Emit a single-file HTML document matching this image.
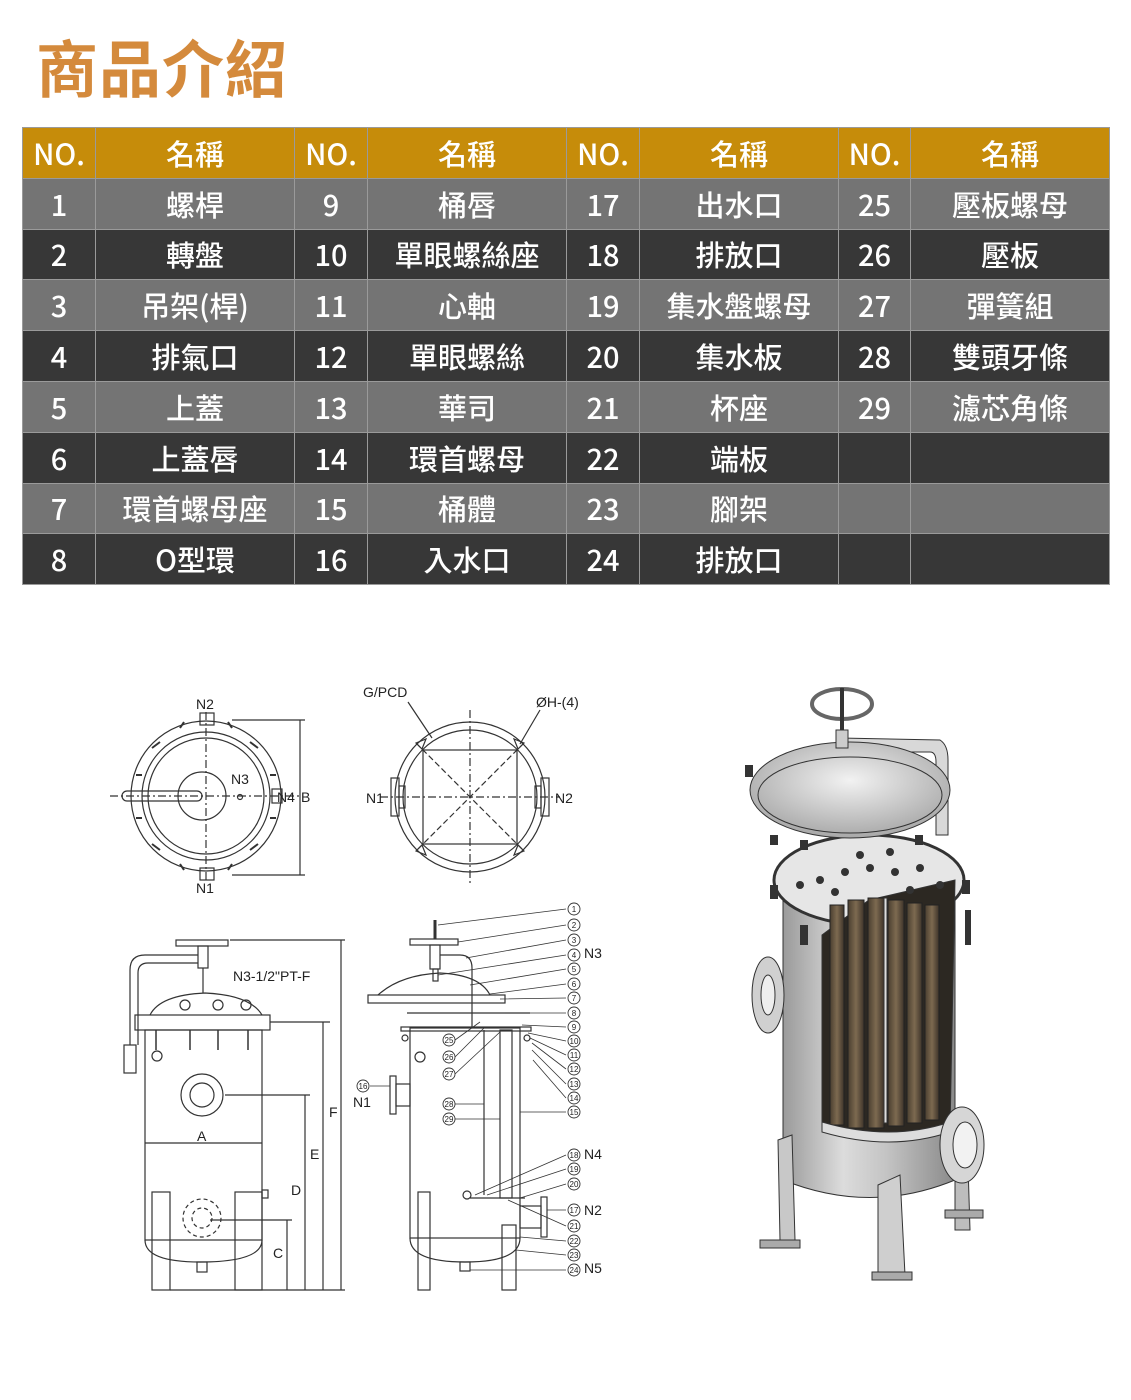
<!DOCTYPE html>
<html><head><meta charset="utf-8">
<style>
html,body{margin:0;padding:0;background:#fff;width:1131px;height:1400px;overflow:hidden;position:relative;font-family:"Liberation Sans","Noto Sans CJK TC",sans-serif}
h1{position:absolute;left:36px;top:26px;margin:0;font-size:62px;font-weight:700;color:#d48a3c;font-family:"Noto Sans CJK TC",sans-serif;letter-spacing:1px;line-height:78px}
table{position:absolute;left:22px;top:127px;border-collapse:collapse;width:1087px;table-layout:fixed}
td,th{height:50.8px;padding:0;text-align:center;color:#fff;font-size:29px;font-family:"Noto Sans CJK TC",sans-serif;font-weight:500;border:1px solid #9a9a9a;line-height:48px;box-sizing:border-box}
th{background:#c68c0a;font-weight:500}
tr.g td{background:#747474}
tr.d td{background:#373737}
svg{position:absolute;left:0;top:0}
text{font-family:"Liberation Sans",sans-serif}
</style></head><body>
<h1>商品介紹</h1>
<table>
<colgroup><col style="width:73px"><col style="width:199px"><col style="width:73px"><col style="width:199px"><col style="width:73px"><col style="width:199px"><col style="width:72px"><col style="width:199px"></colgroup>
<tr><th>NO.</th><th>名稱</th><th>NO.</th><th>名稱</th><th>NO.</th><th>名稱</th><th>NO.</th><th>名稱</th></tr>
<tr class="g"><td>1</td><td>螺桿</td><td>9</td><td>桶唇</td><td>17</td><td>出水口</td><td>25</td><td>壓板螺母</td></tr>
<tr class="d"><td>2</td><td>轉盤</td><td>10</td><td>單眼螺絲座</td><td>18</td><td>排放口</td><td>26</td><td>壓板</td></tr>
<tr class="g"><td>3</td><td>吊架(桿)</td><td>11</td><td>心軸</td><td>19</td><td>集水盤螺母</td><td>27</td><td>彈簧組</td></tr>
<tr class="d"><td>4</td><td>排氣口</td><td>12</td><td>單眼螺絲</td><td>20</td><td>集水板</td><td>28</td><td>雙頭牙條</td></tr>
<tr class="g"><td>5</td><td>上蓋</td><td>13</td><td>華司</td><td>21</td><td>杯座</td><td>29</td><td>濾芯角條</td></tr>
<tr class="d"><td>6</td><td>上蓋唇</td><td>14</td><td>環首螺母</td><td>22</td><td>端板</td><td></td><td></td></tr>
<tr class="g"><td>7</td><td>環首螺母座</td><td>15</td><td>桶體</td><td>23</td><td>腳架</td><td></td><td></td></tr>
<tr class="d"><td>8</td><td>O型環</td><td>16</td><td>入水口</td><td>24</td><td>排放口</td><td></td><td></td></tr>
</table>

<svg width="1131" height="1400" viewBox="0 0 1131 1400">
<defs>
<linearGradient id="cyl" x1="0" x2="1"><stop offset="0" stop-color="#9a9a9a"/><stop offset="0.35" stop-color="#dcdcdc"/><stop offset="0.6" stop-color="#c4c4c4"/><stop offset="1" stop-color="#8a8a8a"/></linearGradient>
<linearGradient id="flt" x1="0" x2="1"><stop offset="0" stop-color="#4a3f30"/><stop offset="0.5" stop-color="#7d6a50"/><stop offset="1" stop-color="#3e342a"/></linearGradient>
<radialGradient id="lid" cx="0.5" cy="0.4" r="0.6"><stop offset="0" stop-color="#f2f2f2"/><stop offset="1" stop-color="#a8a8a8"/></radialGradient>
</defs>
<g fill="none" stroke="#333" stroke-width="1.2">
<circle cx="206" cy="796" r="75"/><circle cx="206" cy="796" r="64"/><circle cx="206" cy="796" r="58"/>
<circle cx="202" cy="796" r="24"/>
<line x1="110" y1="796" x2="300" y2="796" stroke-dasharray="8 3 2 3"/>
<line x1="206" y1="712" x2="206" y2="880" stroke-dasharray="8 3 2 3"/>
<rect x="122" y="791" width="80" height="10" rx="5"/>
<rect x="200" y="713" width="14" height="12"/><rect x="200" y="868" width="14" height="12"/>
<rect x="272" y="789" width="10" height="14"/>
<circle cx="240" cy="797" r="2.5"/>
<line x1="232" y1="720" x2="305" y2="720"/><line x1="232" y1="875" x2="305" y2="875"/><line x1="300" y1="720" x2="300" y2="875"/>
<g stroke-width="2">
<path d="M152 748 l8 -6 M258 748 l-8 -6 M152 844 l8 6 M258 844 l-8 6 M136 775 l6 0 M276 775 l-6 0 M136 818 l6 0 M276 818 l-6 0 M180 728 l4 -6 M232 728 l-4 -6 M180 864 l4 6 M232 864 l-4 6"/>
</g>
<circle cx="470" cy="797" r="75"/><circle cx="470" cy="797" r="67"/>
<rect x="423" y="750" width="94" height="94"/>
<line x1="380" y1="797" x2="560" y2="797" stroke-dasharray="8 3 2 3"/><line x1="470" y1="710" x2="470" y2="885" stroke-dasharray="8 3 2 3"/>
<line x1="416" y1="743" x2="524" y2="851" stroke-dasharray="6 3"/><line x1="524" y1="743" x2="416" y2="851" stroke-dasharray="6 3"/>
<rect x="391" y="778" width="8" height="38"/><rect x="541" y="778" width="8" height="38"/>
<rect x="399" y="786" width="6" height="22"/><rect x="535" y="786" width="6" height="22"/>
<path d="M416 743 l10 -4 l-4 10 z M524 743 l-10 -4 l4 10 z M416 851 l10 4 l-4 -10 z M524 851 l-10 4 l4 -10 z"/>
<path d="M408 702 L432 738 M540 710 L520 744"/>
<rect x="145" y="1030" width="117" height="210"/>
<path d="M145 1240 Q145 1262 200 1262 Q262 1262 262 1240"/>
<rect x="135" y="1015" width="135" height="15"/>
<path d="M150 1015 Q160 995 205 993 Q250 995 262 1015"/>
<rect x="176" y="940" width="52" height="6"/><rect x="198" y="946" width="10" height="22"/><line x1="203" y1="968" x2="203" y2="993"/>
<path d="M130 1045 L130 970 Q130 955 145 955 L198 955"/><path d="M138 1045 L138 973 Q138 963 148 963 L198 963"/>
<rect x="124" y="1045" width="12" height="28"/>
<circle cx="202" cy="1095" r="21"/><circle cx="202" cy="1095" r="12"/>
<circle cx="202" cy="1218" r="19" stroke-dasharray="4 3"/><circle cx="202" cy="1218" r="10" stroke-dasharray="4 3"/>
<rect x="152" y="1192" width="18" height="98"/><rect x="235" y="1192" width="27" height="98"/>
<rect x="262" y="1190" width="6" height="8"/><rect x="197" y="1262" width="10" height="10"/>
<line x1="145" y1="1143" x2="262" y2="1143"/>
<line x1="230" y1="940" x2="345" y2="940"/><line x1="270" y1="1022" x2="330" y2="1022"/>
<line x1="225" y1="1095" x2="310" y2="1095"/><line x1="210" y1="1220" x2="292" y2="1220"/>
<line x1="170" y1="1290" x2="345" y2="1290"/>
<line x1="341" y1="940" x2="341" y2="1290"/><line x1="323" y1="1022" x2="323" y2="1290"/><line x1="305" y1="1095" x2="305" y2="1290"/><line x1="287" y1="1220" x2="287" y2="1290"/>
<g stroke-width="1.5"><line x1="156" y1="1030" x2="156" y2="1050"/><line x1="190" y1="1030" x2="190" y2="1050"/><line x1="218" y1="1030" x2="218" y2="1050"/><line x1="248" y1="1030" x2="248" y2="1050"/></g>
<circle cx="157" cy="1056" r="5"/><circle cx="185" cy="1005" r="5"/><circle cx="218" cy="1005" r="5"/><circle cx="246" cy="1005" r="5"/>
<rect x="410" y="1028" width="110" height="210"/>
<path d="M410 1238 Q410 1262 465 1262 Q520 1262 520 1238"/>
<rect x="368" y="995" width="137" height="8"/>
<path d="M378 995 Q400 975 440 973 Q480 975 490 995"/>
<rect x="410" y="939" width="48" height="6"/><rect x="430" y="945" width="10" height="24"/><rect x="433" y="969" width="5" height="12"/>
<line x1="435" y1="920" x2="435" y2="939" stroke-width="3"/>
<path d="M440 955 L460 955 Q472 955 472 968 L472 1028"/>
<line x1="407" y1="1013" x2="530" y2="1013"/>
<rect x="401" y="1027" width="130" height="4"/>
<line x1="484" y1="1030" x2="484" y2="1195"/>
<rect x="500" y="1030" width="12" height="168"/>
<line x1="470" y1="1198" x2="525" y2="1198"/>
<circle cx="467" cy="1195" r="4"/>
<rect x="390" y="1076" width="6" height="38"/><rect x="396" y="1084" width="14" height="22"/>
<rect x="541" y="1197" width="6" height="40"/><rect x="520" y="1206" width="21" height="22"/>
<rect x="418" y="1192" width="12" height="98"/><rect x="502" y="1225" width="14" height="65"/>
<rect x="460" y="1262" width="10" height="9"/>
<circle cx="405" cy="1038" r="3"/><circle cx="420" cy="1057" r="5"/><circle cx="527" cy="1038" r="3"/>
<g stroke-width="0.8">
<path d="M438 925 L566 909 M458 942 L566 925 M466 958 L566 940 M438 975 L566 955 M470 985 L566 969 M490 994 L566 984 M500 999 L566 998 M505 1013 L566 1013 M522 1025 L566 1027 M528 1033 L566 1041 M530 1038 L566 1055 M532 1043 L566 1069 M532 1050 L566 1084 M533 1060 L566 1098 M520 1112 L566 1112"/>
<path d="M475 1195 L566 1155 M487 1195 L566 1169 M520 1198 L566 1184 M547 1210 L566 1210 M508 1200 L566 1226 M520 1237 L566 1241 M516 1250 L566 1255 M470 1270 L566 1270"/>
<path d="M455 1040 L480 1022 M455 1057 L484 1028 M455 1074 L500 1032 M455 1104 L484 1104 M455 1119 L500 1119 M370 1086 L390 1086"/>
</g>
<g stroke-width="0.9">
<circle cx="574" cy="909" r="6"/><circle cx="574" cy="925" r="6"/><circle cx="574" cy="940" r="6"/><circle cx="574" cy="955" r="6"/><circle cx="574" cy="969" r="6"/><circle cx="574" cy="984" r="6"/><circle cx="574" cy="998" r="6"/><circle cx="574" cy="1013" r="6"/><circle cx="574" cy="1027" r="6"/><circle cx="574" cy="1041" r="6"/><circle cx="574" cy="1055" r="6"/><circle cx="574" cy="1069" r="6"/><circle cx="574" cy="1084" r="6"/><circle cx="574" cy="1098" r="6"/><circle cx="574" cy="1112" r="6"/>
<circle cx="574" cy="1155" r="6"/><circle cx="574" cy="1169" r="6"/><circle cx="574" cy="1184" r="6"/><circle cx="574" cy="1210" r="6"/><circle cx="574" cy="1226" r="6"/><circle cx="574" cy="1241" r="6"/><circle cx="574" cy="1255" r="6"/><circle cx="574" cy="1270" r="6"/>
<circle cx="449" cy="1040" r="6"/><circle cx="449" cy="1057" r="6"/><circle cx="449" cy="1074" r="6"/><circle cx="449" cy="1104" r="6"/><circle cx="449" cy="1119" r="6"/><circle cx="363" cy="1086" r="6"/>
</g>
</g>
<g font-size="8" text-anchor="middle" fill="#222">
<text x="574" y="912">1</text><text x="574" y="928">2</text><text x="574" y="943">3</text><text x="574" y="958">4</text><text x="574" y="972">5</text><text x="574" y="987">6</text><text x="574" y="1001">7</text><text x="574" y="1016">8</text><text x="574" y="1030">9</text><text x="574" y="1044">10</text><text x="574" y="1058">11</text><text x="574" y="1072">12</text><text x="574" y="1087">13</text><text x="574" y="1101">14</text><text x="574" y="1115">15</text>
<text x="574" y="1158">18</text><text x="574" y="1172">19</text><text x="574" y="1187">20</text><text x="574" y="1213">17</text><text x="574" y="1229">21</text><text x="574" y="1244">22</text><text x="574" y="1258">23</text><text x="574" y="1273">24</text>
<text x="449" y="1043">25</text><text x="449" y="1060">26</text><text x="449" y="1077">27</text><text x="449" y="1107">28</text><text x="449" y="1122">29</text><text x="363" y="1089">16</text>
</g>
<g font-size="14" fill="#222">
<text x="196" y="709">N2</text><text x="196" y="893">N1</text><text x="231" y="784">N3</text><text x="277" y="802">N4</text><text x="301" y="802">B</text>
<text x="363" y="697">G/PCD</text><text x="536" y="707">ØH-(4)</text><text x="366" y="803">N1</text><text x="555" y="803">N2</text>
<text x="233" y="981">N3-1/2"PT-F</text><text x="197" y="1141">A</text><text x="310" y="1159">E</text><text x="291" y="1195">D</text><text x="273" y="1258">C</text><text x="329" y="1117">F</text>
<text x="353" y="1107">N1</text><text x="584" y="958">N3</text><text x="584" y="1159">N4</text><text x="584" y="1215">N2</text><text x="584" y="1273">N5</text>
</g>
<g stroke="#333" stroke-width="1">
<path d="M783 880 L783 1180 Q870 1215 955 1180 L955 880 Z" fill="url(#cyl)"/>
<path d="M780 1240 L778 1140 L792 1135 L795 1240 Z" fill="#c8c8c8"/>
<path d="M878 1275 L878 1185 L900 1175 L905 1275 Z" fill="#cfcfcf"/>
<path d="M955 1230 L955 1165 L968 1165 L970 1230 Z" fill="#bdbdbd"/>
<rect x="760" y="1240" width="40" height="8" fill="#aaa"/><rect x="872" y="1272" width="40" height="8" fill="#aaa"/><rect x="945" y="1210" width="38" height="8" fill="#aaa"/>
<ellipse cx="869" cy="880" rx="95" ry="45" fill="#e6e6e6" stroke-width="3"/>
<path d="M822 1130 L822 935 L869 900 L955 880 L950 1130 Q890 1150 822 1130 Z" fill="#2c2822"/>
<g fill="url(#flt)" stroke="#222">
<rect x="830" y="905" width="14" height="220"/><rect x="848" y="900" width="16" height="228"/><rect x="868" y="898" width="16" height="230"/><rect x="888" y="900" width="16" height="226"/><rect x="907" y="903" width="15" height="220"/><rect x="925" y="905" width="14" height="215"/>
</g>
<rect x="884" y="898" width="3" height="225" fill="#ddd"/>
<path d="M822 1132 Q890 1152 950 1132 L950 1122 Q890 1142 822 1122 Z" fill="#ddd"/>
<ellipse cx="768" cy="995" rx="16" ry="38" fill="#d0d0d0"/><ellipse cx="768" cy="995" rx="7" ry="20" fill="#eee"/>
<ellipse cx="962" cy="1145" rx="22" ry="38" fill="#d6d6d6"/><ellipse cx="965" cy="1145" rx="12" ry="23" fill="#f2f2f2"/>
<path d="M840 738 L940 740 Q948 745 948 760 L948 835 L936 835 L936 762 Q936 752 930 752 L840 752 Z" fill="#d8d8d8"/>
<ellipse cx="850" cy="790" rx="100" ry="48" fill="url(#lid)"/>
<ellipse cx="850" cy="795" rx="92" ry="38" fill="none"/>
<ellipse cx="842" cy="704" rx="30" ry="15" fill="none" stroke="#666" stroke-width="4"/>
<line x1="842" y1="688" x2="842" y2="740" stroke-width="4"/>
<rect x="836" y="730" width="12" height="18" fill="#ccc"/>
</g>
<g fill="#333">
<circle cx="820" cy="880" r="4"/><circle cx="845" cy="872" r="4"/><circle cx="870" cy="868" r="4"/><circle cx="895" cy="872" r="4"/><circle cx="920" cy="868" r="4"/><circle cx="800" cy="885" r="4"/><circle cx="835" cy="892" r="4"/><circle cx="910" cy="890" r="4"/><circle cx="940" cy="885" r="4"/><circle cx="860" cy="855" r="4"/><circle cx="890" cy="852" r="4"/>
<rect x="745" y="765" width="8" height="12"/><rect x="770" y="835" width="8" height="10"/><rect x="800" y="840" width="8" height="10"/><rect x="915" y="835" width="8" height="10"/><rect x="770" y="885" width="8" height="14"/><rect x="962" y="880" width="8" height="14"/><rect x="800" y="925" width="8" height="20"/><rect x="965" y="910" width="6" height="35"/>
</g>
</svg>
</body></html>
